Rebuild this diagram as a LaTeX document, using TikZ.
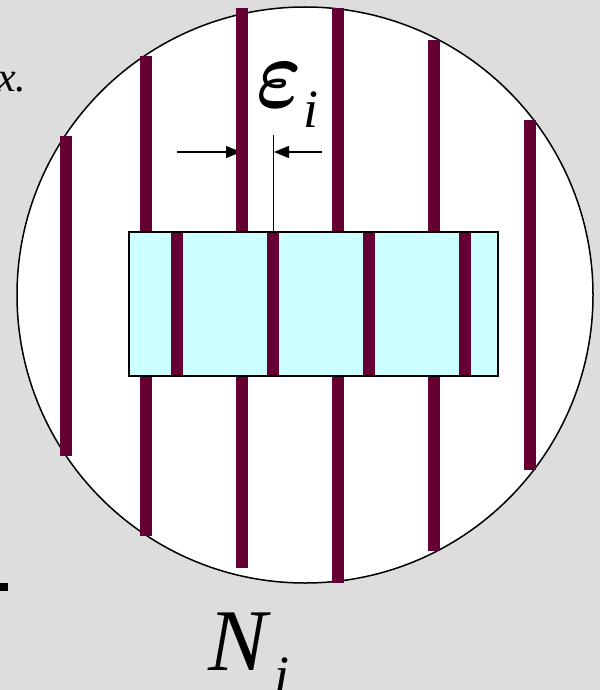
\documentclass[tikz,border=0pt]{standalone}
\usepackage{fix-cm}
\usepackage{bm}
\usepackage{fontspec}
\setmainfont{Liberation Serif}
\usetikzlibrary{arrows.meta}
\definecolor{bg}{HTML}{DDDDDD}
\definecolor{maroon}{HTML}{660033}
\definecolor{cellfill}{HTML}{CCFFFF}
\begin{document}
\begin{tikzpicture}[x=1pt,y=-1pt,
  barfill/.style={fill=maroon},
  dimarrow/.style={line width=1.5pt,-{Triangle[length=15pt,width=12pt]}},
  lbl/.style={inner sep=0pt,anchor=base west,font=\itshape}]
\useasboundingbox (0,0) rectangle (600,690);
\fill[bg] (0,0) rectangle (600,690);
% circle
\draw[fill=white,line width=1.5pt] (305,295) circle[x radius=288,y radius=288];
% dimension arrows (under bars)
\coordinate (la) at (177,152);
\coordinate (lt) at (241,152);
\coordinate (ra) at (322,152);
\coordinate (rt) at (274,152);
\draw[dimarrow] (la) -- (lt);
\draw[dimarrow] (ra) -- (rt);
% outer bars
\foreach \x/\t/\b in {65.5/136/456, 145.5/56/536, 241.5/8/568, 337.5/8/583, 433.5/40/551, 529.5/120/470}
  \fill[barfill] (\x-6,\t) rectangle (\x+6,\b);
% cell
\fill[cellfill] (129,232) rectangle (498,376);
\foreach \x in {177.3,273.3,369.3,465.3}
  \fill[barfill] (\x-6,232) rectangle (\x+6,376);
\draw[line width=1.5pt] (129,232) rectangle (498,376);
% thin marker line
\coordinate (mt) at (273.5,135);
\coordinate (mb) at (273.5,232);
\draw[line width=1pt] (mt) -- (mb);
% labels
\node[lbl,font=\fontsize{100}{100}\selectfont] (eps) at (256,107) {\scalebox{0.86}[1]{$\bm{\varepsilon}$}};
\node[lbl,font=\itshape\fontsize{54}{56}\selectfont] (epsi) at (303,128) {i};
\node[lbl,font=\itshape\fontsize{88}{90}\selectfont] (N) at (208,670) {N};
\node[lbl,font=\itshape\fontsize{54}{56}\selectfont] (Ni) at (274,693) {i};
\node[lbl,font=\itshape\fontsize{42}{44}\selectfont] (x) at (-3,92) {x.};
% stray dash
\fill (0,583) rectangle (8,591);
\end{tikzpicture}
\end{document}
